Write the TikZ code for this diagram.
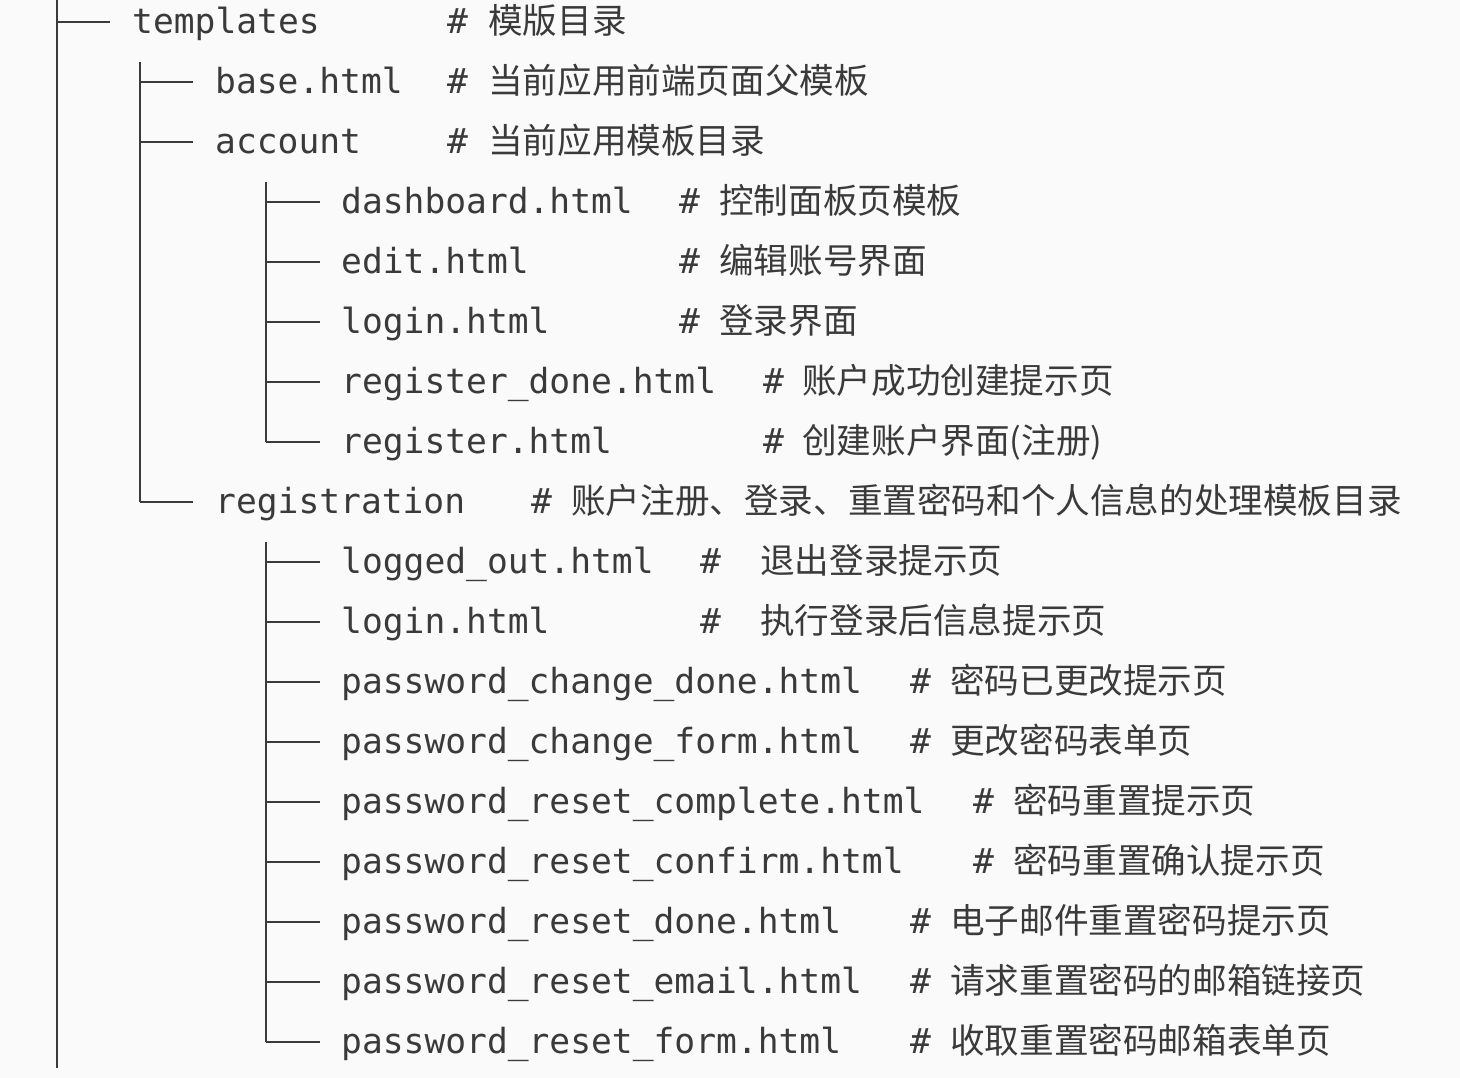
\documentclass[tikz,border=0pt]{standalone}
\usepackage{fontspec}
\setmonofont{DejaVu Sans Mono}
\newfontfamily\cjk{Noto Sans CJK SC}
\definecolor{bg}{HTML}{FAFAFA}
\definecolor{tx}{HTML}{3A3A3A}
\begin{document}
\begin{tikzpicture}[x=1pt,y=-1pt,
  nm/.style={anchor=mid west,inner sep=0,text=tx,font=\fontsize{34.6}{40}\selectfont\ttfamily},
  cn/.style={anchor=mid west,inner sep=0,text=tx,font=\fontsize{34.6}{40}\selectfont\cjk},
  tr/.style={draw=tx,line width=2.2pt}]
\fill[bg] (0,0) rectangle (1460,1078);
\useasboundingbox (0,0) rectangle (1460,1078);
% tree lines
\coordinate (v1a) at (57,0); \coordinate (v1b) at (57,1068);
\draw[tr] (v1a) -- (v1b);
\coordinate (h1a) at (57,22); \coordinate (h1b) at (110,22);
\draw[tr] (h1a) -- (h1b);
\coordinate (v2a) at (140,62); \coordinate (v2b) at (140,502);
\draw[tr] (v2a) -- (v2b);
\foreach \y in {82,142,502}{\draw[tr] (140,\y) -- (193,\y);}
\draw[tr] (266,182) -- (266,442);
\draw[tr] (266,542) -- (266,1042);
\foreach \y in {202,262,322,382,442,562,622,682,742,802,862,922,982,1042}{\draw[tr] (266,\y) -- (320,\y);}
% rows
\foreach \i/\x/\n/\h/\c/\t in {
 1/132/templates/447/488/模版目录,
 2/215/base.html/447/488/当前应用前端页面父模板,
 3/215/account/447/488/当前应用模板目录,
 4/341/dashboard.html/679/719/控制面板页模板,
 5/341/edit.html/679/719/编辑账号界面,
 6/341/login.html/679/719/登录界面,
 7/341/register\_done.html/763/802/账户成功创建提示页,
 8/341/register.html/763/802/创建账户界面(注册),
 9/215/registration/531/571/账户注册、登录、重置密码和个人信息的处理模板目录,
 10/341/logged\_out.html/700/760/退出登录提示页,
 11/341/login.html/700/760/执行登录后信息提示页,
 12/341/password\_change\_done.html/910/950/密码已更改提示页,
 13/341/password\_change\_form.html/910/950/更改密码表单页,
 14/341/password\_reset\_complete.html/973/1013/密码重置提示页,
 15/341/password\_reset\_confirm.html/973/1013/密码重置确认提示页,
 16/341/password\_reset\_done.html/910/950/电子邮件重置密码提示页,
 17/341/password\_reset\_email.html/910/950/请求重置密码的邮箱链接页,
 18/341/password\_reset\_form.html/910/950/收取重置密码邮箱表单页}{
 \pgfmathsetmacro\yy{31+60*(\i-1)}
 \node[nm] (n\i) at (\x,\yy) {\n};
 \node[nm] (s\i) at (\h,\yy) {\#};
 \node[cn] (c\i) at (\c,\yy) {\t};
}
\end{tikzpicture}
\end{document}
